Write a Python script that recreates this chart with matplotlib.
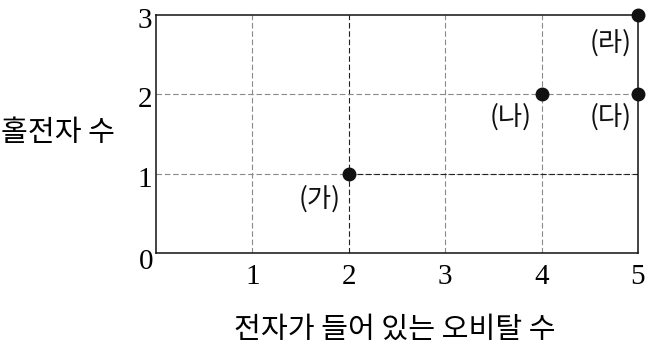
import matplotlib
matplotlib.use("Agg")
import matplotlib.pyplot as plt
import matplotlib.transforms as mtransforms

# data
x_vals = [2, 4, 5, 5]
y_vals = [1, 2, 2, 3]
point_labels = ["(가)", "(나)", "(다)", "(라)"]
label_offsets_px = [(-29, -25), (-31, -23), (-27, -23), (-27, -28)]
x_ticks = [1, 2, 3, 4, 5]
y_ticks = [1, 2, 3]
x_label = "전자가 들어 있는 오비탈 수"
y_label = "홀전자 수"

KFONT = ["Noto Sans CJK KR", "DejaVu Sans"]
NFONT = ["Liberation Serif", "DejaVu Serif"]

fig = plt.figure(figsize=(6.46, 3.46), dpi=100)
ax = fig.add_axes([156/646, 1-253/346, (638-156)/646, (253-15)/346])
ax.set_xlim(0, 5)
ax.set_ylim(0, 3)

gray = "#8a8a8a"
dash = (0, (5, 2.5))
for xv in x_ticks[:-1]:
    c = "#222222" if xv == 2 else gray
    ax.plot([xv, xv], [0, 3], color=c, lw=0.8, linestyle=dash, zorder=1)
for yv in y_ticks[:-1]:
    ax.plot([0, 5], [yv, yv], color=gray, lw=0.8, linestyle=dash, zorder=1)
ax.plot([2, 5], [1, 1], color="#222222", lw=0.8, linestyle=dash, zorder=1.5)

ax.plot(x_vals, y_vals, "o", color="#111111", markersize=9, zorder=5, clip_on=False)

for xv, yv, lab, off in zip(x_vals, y_vals, point_labels, label_offsets_px):
    ax.annotate(lab, xy=(xv, yv), xytext=off, textcoords="offset pixels",
                ha="center", va="center", fontsize=19, family=KFONT, color="#111111")

for s in ax.spines.values():
    s.set_linewidth(1.1)
    s.set_color("#111111")

ax.set_xticks(x_ticks)
ax.set_yticks(y_ticks)
ax.set_xticklabels([str(v) for v in x_ticks], family=NFONT, fontsize=21)
ax.set_yticklabels([str(v) for v in y_ticks], family=NFONT, fontsize=21)
ax.tick_params(axis="both", length=0)
ax.tick_params(axis="x", pad=8)
ax.tick_params(axis="y", pad=3)
shift = mtransforms.ScaledTranslation(0, -3/100, fig.dpi_scale_trans)
for t in ax.get_yticklabels():
    t.set_transform(t.get_transform() + shift)
ax.annotate("0", xy=(0, 0), xytext=(-3, -9), textcoords="offset pixels",
            ha="right", va="center", family=NFONT, fontsize=21)

ax.set_xlabel(x_label, family=KFONT, fontsize=21)
ax.xaxis.set_label_coords((395-156)/482, (253-330)/238)
ax.xaxis.label.set_va("center")
ax.set_ylabel(y_label, family=KFONT, fontsize=21, rotation=0, ha="center", va="center")
ax.yaxis.set_label_coords((58-156)/482, (253-133)/238)

fig.savefig("out.png", dpi=100)
